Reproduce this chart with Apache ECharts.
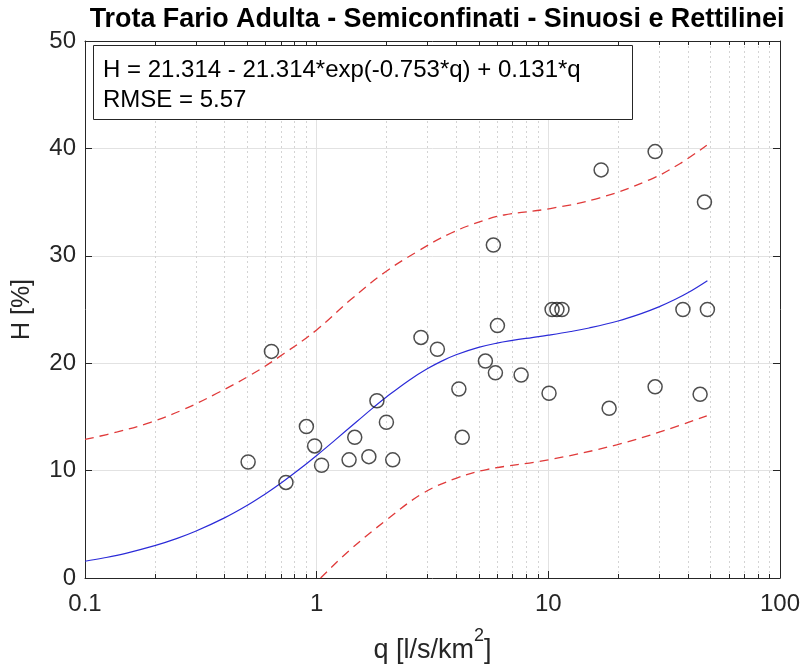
<!DOCTYPE html>
<html>
<head>
<meta charset="utf-8">
<script src="https://cdn.jsdelivr.net/npm/echarts@6/dist/echarts.min.js"></script>
<style>
  html, body { margin: 0; padding: 0; background: #fff; }
  #main { width: 801px; height: 666px; }
</style>
</head>
<body>
<div id="main"></div>
<script>
// osservazioni (q, H)
var qObs = [0.506, 0.638, 0.737, 0.903, 0.98, 1.05, 1.38, 1.46, 1.68, 1.82, 2.0, 2.13,
  2.82, 3.32, 4.11, 4.25, 5.35, 6.03, 5.91, 7.63, 5.79, 10.07, 10.38, 10.89, 11.45,
  16.9, 18.3, 28.9, 28.9, 38.1, 45.2, 47.2, 48.6];
var hObs = [10.8, 21.1, 8.9, 14.1, 12.3, 10.5, 11.0, 13.1, 11.3, 16.5, 14.5, 11.0,
  22.4, 21.3, 17.6, 13.1, 20.2, 23.5, 19.1, 18.9, 31.0, 17.2, 25.0, 25.0, 25.0,
  38.0, 15.8, 39.7, 17.8, 25.0, 17.1, 35.0, 25.0];

// curva di regressione
var fitQ = [0.1, 0.12, 0.15, 0.2, 0.25, 0.3, 0.4, 0.5, 0.6, 0.7, 0.85, 1, 1.2, 1.5, 1.75,
  2, 2.5, 3, 3.5, 4, 5, 6, 7, 8.5, 10, 12.5, 15, 20, 25, 30, 35, 40, 48.6];
var fitH = [1.56, 1.86, 2.30, 3.01, 3.69, 4.35, 5.60, 6.75, 7.83, 8.82, 10.19, 11.41, 12.84,
  14.62, 15.84, 16.85, 18.40, 19.48, 20.24, 20.79, 21.47, 21.87, 22.12, 22.39, 22.61,
  22.95, 23.28, 23.93, 24.59, 25.24, 25.90, 26.55, 27.68];

// limiti di confidenza
var upQ = [0.1, 0.138, 0.192, 0.267, 0.371, 0.519, 0.723, 1.0, 1.4, 1.95, 2.72, 3.79, 5.27, 6.44, 10.2, 16.7, 27.5, 37.1, 48.3];
var upH = [12.9, 13.6, 14.5, 15.7, 17.2, 18.9, 20.9, 23.1, 25.9, 28.4, 30.4, 32.1, 33.3, 33.8, 34.4, 35.4, 37.1, 38.6, 40.3];
var loQ = [1.04, 1.39, 2.0, 2.88, 4.02, 5.42, 10.0, 19.7, 32.4, 48.3];
var loH = [0, 2.6, 5.4, 7.9, 9.3, 10.1, 11.0, 12.4, 13.8, 15.1];

var minorQ = [0.2, 0.3, 0.4, 0.5, 0.6, 0.7, 0.8, 0.9, 2, 3, 4, 5, 6, 7, 8, 9,
  20, 30, 40, 50, 60, 70, 80, 90];

var FONT = 'Liberation Sans, Arial, Helvetica, sans-serif';
var INK = '#262626';

function zip(a, b) {
  var arr = [];
  a.forEach(function(v, i) {
    arr.push([v, b[i]]);
  });
  return arr;
}

var chart = echarts.init(document.getElementById('main'));

var baseX = {
  type: 'log',
  logBase: 10,
  min: 0.1,
  max: 100,
  axisLine: { onZero: false, lineStyle: { color: INK, width: 1 } },
  axisTick: { inside: true, length: 7, lineStyle: { color: INK } },
  splitLine: { show: false },
  minorTick: { show: false }
};
var baseY = {
  type: 'value',
  min: 0,
  max: 50,
  interval: 10,
  axisLine: { show: true, onZero: false, lineStyle: { color: INK, width: 1 } },
  axisTick: { show: true, inside: true, length: 7, lineStyle: { color: INK } },
  splitLine: { show: false }
};

chart.setOption({
  animation: false,
  title: {
    text: 'Trota Fario Adulta - Semiconfinati - Sinuosi e Rettilinei',
    left: 432,
    top: 1,
    textAlign: 'center',
    textStyle: { fontFamily: FONT, fontSize: 26.9, fontWeight: 'bold', color: '#000' }
  },
  grid: { left: 85, right: 21, top: 41, bottom: 88, outerBoundsMode: 'none', containLabel: false },
  xAxis: [
    Object.assign({}, baseX, {
      position: 'bottom',
      name: '{b|q [l/s/km}{sup|2}{b|]}',
      nameLocation: 'middle',
      nameGap: 49,
      nameTextStyle: {
        rich: {
          b: { fontFamily: FONT, fontSize: 27, color: INK, lineHeight: 37, verticalAlign: 'bottom' },
          sup: { fontFamily: FONT, fontSize: 18, color: INK, lineHeight: 18, verticalAlign: 'top' }
        }
      },
      axisLabel: {
        margin: 14,
        fontFamily: FONT,
        fontSize: 24,
        color: INK,
        formatter: function(v) {
          return String(Number(v.toPrecision(6)));
        }
      },
      splitLine: { show: true, lineStyle: { color: '#e2e2e2', width: 1 } }
    }),
    Object.assign({}, baseX, {
      position: 'top',
      axisLabel: { show: false }
    })
  ],
  yAxis: [
    Object.assign({}, baseY, {
      position: 'left',
      name: 'H [%]',
      nameLocation: 'middle',
      nameRotate: 90,
      nameGap: 50,
      nameTextStyle: { fontFamily: FONT, fontSize: 25, color: INK },
      axisLabel: { margin: 9, fontFamily: FONT, fontSize: 24, color: INK },
      splitLine: { show: true, lineStyle: { color: '#e2e2e2', width: 1 } }
    }),
    Object.assign({}, baseY, {
      position: 'right',
      axisLabel: { show: false }
    })
  ],
  graphic: [
    {
      type: 'rect',
      shape: { x: 93.5, y: 45.5, width: 539, height: 74 },
      style: { fill: '#fff', stroke: INK, lineWidth: 1 },
      z: 100
    },
    {
      type: 'text',
      x: 103,
      y: 70,
      style: {
        text: 'H = 21.314 - 21.314*exp(-0.753*q) + 0.131*q',
        font: '24px ' + FONT,
        fill: '#000',
        verticalAlign: 'middle'
      },
      z: 101
    },
    {
      type: 'text',
      x: 103,
      y: 100,
      style: {
        text: 'RMSE = 5.57',
        font: '24px ' + FONT,
        fill: '#000',
        verticalAlign: 'middle'
      },
      z: 101
    }
  ],
  series: [
    {
      // griglia e tacche secondarie
      name: 'minorGrid',
      type: 'custom',
      silent: true,
      z: 0,
      data: minorQ.map(function(q) { return [q]; }),
      renderItem: function(params, api) {
        var bottom = api.coord([api.value(0), 0]);
        var top = api.coord([api.value(0), 50]);
        var x = Math.round(bottom[0]) + 0.5;
        return {
          type: 'group',
          children: [
            {
              type: 'line',
              shape: { x1: x, y1: bottom[1], x2: x, y2: top[1] },
              style: { stroke: '#d4d4d4', lineWidth: 1, lineDash: [2, 3] }
            },
            {
              type: 'line',
              shape: { x1: x, y1: bottom[1], x2: x, y2: bottom[1] - 4 },
              style: { stroke: INK, lineWidth: 1 }
            },
            {
              type: 'line',
              shape: { x1: x, y1: top[1], x2: x, y2: top[1] + 4 },
              style: { stroke: INK, lineWidth: 1 }
            }
          ]
        };
      }
    },
    {
      name: 'fit',
      type: 'line',
      data: zip(fitQ, fitH),
      smooth: 0.4,
      symbol: 'none',
      lineStyle: { color: '#2b2bd8', width: 1.2 },
      z: 3
    },
    {
      name: 'upper',
      type: 'line',
      data: zip(upQ, upH),
      smooth: 0.4,
      symbol: 'none',
      lineStyle: { color: '#e03a3a', width: 1.3, type: [9, 6] },
      z: 3
    },
    {
      name: 'lower',
      type: 'line',
      data: zip(loQ, loH),
      smooth: 0.4,
      symbol: 'none',
      lineStyle: { color: '#e03a3a', width: 1.3, type: [9, 6] },
      z: 3
    },
    {
      name: 'dati',
      type: 'scatter',
      data: zip(qObs, hObs),
      symbol: 'circle',
      symbolSize: 14,
      itemStyle: { color: 'rgba(0,0,0,0)', borderColor: '#222', borderWidth: 1.5 },
      z: 4
    }
  ]
});
</script>
</body>
</html>
